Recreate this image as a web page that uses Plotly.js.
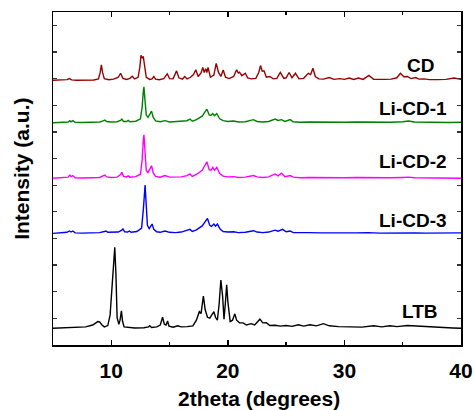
<!DOCTYPE html>
<html>
<head>
<meta charset="utf-8">
<script src="https://cdn.plot.ly/plotly-3.0.1.min.js"></script>
<style>html,body{margin:0;padding:0;background:#fff;}#chart{width:474px;height:410px;}</style>
</head>
<body>
<div id="chart"></div>
<script>
// ---- DATA (2theta in degrees, relative intensity above each pattern's baseline) ----
var seriesNames = ["CD", "Li-CD-1", "Li-CD-2", "Li-CD-3", "LTB"];
var seriesOffsets = [9.93, 8.34, 6.26, 4.19, 0.63];
var seriesColors = ["#990000", "#008000", "#ff00ff", "#0000ff", "#000000"];

var cd = [[5.0,0.01],[5.8,0.02],[6.2,0.03],[6.4,0.07],[6.6,0.02],[7.0,0.01],[7.8,0.02],[8.5,0.02],[8.9,0.06],[9.05,0.3],[9.15,0.59],[9.25,0.3],[9.4,0.07],[9.6,0.05],[9.8,0.03],[10.2,0.05],[10.6,0.12],[10.8,0.27],[11.0,0.08],[11.3,0.04],[11.6,0.08],[11.8,0.16],[12.0,0.06],[12.3,0.12],[12.45,0.5],[12.55,0.94],[12.65,0.86],[12.75,0.88],[12.85,0.55],[13.0,0.12],[13.3,0.04],[13.5,0.06],[13.65,0.15],[13.8,0.05],[14.1,0.03],[14.5,0.07],[14.8,0.25],[15.0,0.07],[15.3,0.06],[15.6,0.36],[15.8,0.1],[16.1,0.05],[16.3,0.15],[16.5,0.06],[16.8,0.12],[17.05,0.22],[17.25,0.4],[17.45,0.15],[17.7,0.28],[17.85,0.49],[17.97,0.3],[18.1,0.44],[18.2,0.3],[18.3,0.49],[18.5,0.12],[18.8,0.2],[19.0,0.64],[19.2,0.3],[19.4,0.15],[19.6,0.39],[19.8,0.12],[20.1,0.07],[20.5,0.15],[20.75,0.4],[20.9,0.28],[21.0,0.31],[21.2,0.18],[21.5,0.27],[21.7,0.1],[22.0,0.06],[22.4,0.08],[22.65,0.3],[22.8,0.56],[22.95,0.35],[23.1,0.36],[23.3,0.12],[23.6,0.15],[23.9,0.06],[24.2,0.08],[24.5,0.3],[24.8,0.08],[25.0,0.1],[25.25,0.3],[25.5,0.1],[25.8,0.27],[26.1,0.06],[26.5,0.08],[26.9,0.27],[27.1,0.22],[27.3,0.46],[27.5,0.15],[27.8,0.06],[28.2,0.05],[28.7,0.11],[29.1,0.04],[29.6,0.07],[30.0,0.04],[30.4,0.09],[30.8,0.04],[31.2,0.09],[31.6,0.04],[32.1,0.19],[32.5,0.04],[33.0,0.03],[33.5,0.04],[34.0,0.05],[34.5,0.1],[34.8,0.27],[35.1,0.14],[35.4,0.15],[35.7,0.07],[36.1,0.11],[36.4,0.05],[36.8,0.06],[37.3,0.03],[38.0,0.03],[38.7,0.04],[39.4,0.09],[40.0,0.04]];

var licd1 = [[5.0,0.0],[5.8,0.02],[6.3,0.03],[6.45,0.08],[6.55,0.04],[6.7,0.08],[6.9,0.02],[7.5,0.01],[8.3,0.02],[9.0,0.03],[9.3,0.07],[9.45,0.1],[9.6,0.05],[10.0,0.03],[10.5,0.04],[10.8,0.09],[10.9,0.14],[11.05,0.05],[11.3,0.05],[11.45,0.09],[11.6,0.04],[12.1,0.06],[12.5,0.15],[12.65,0.6],[12.75,1.2],[12.8,1.35],[12.88,0.9],[13.0,0.3],[13.15,0.2],[13.35,0.38],[13.45,0.44],[13.6,0.2],[13.8,0.07],[14.2,0.04],[14.6,0.08],[15.0,0.03],[15.5,0.04],[16.0,0.05],[16.5,0.08],[16.75,0.14],[16.95,0.06],[17.3,0.12],[17.8,0.25],[18.05,0.42],[18.2,0.51],[18.4,0.3],[18.55,0.28],[18.7,0.35],[18.85,0.27],[19.05,0.35],[19.3,0.15],[19.6,0.08],[20.0,0.05],[20.5,0.07],[20.9,0.03],[21.5,0.04],[22.2,0.12],[22.5,0.05],[23.0,0.03],[23.5,0.05],[24.05,0.14],[24.3,0.09],[24.6,0.12],[24.9,0.05],[25.35,0.12],[25.6,0.04],[26.2,0.02],[27.0,0.03],[28.0,0.02],[29.0,0.03],[30.0,0.02],[31.0,0.03],[32.0,0.02],[33.0,0.03],[34.0,0.02],[35.0,0.04],[35.5,0.07],[36.0,0.03],[37.0,0.02],[38.0,0.03],[39.0,0.01],[40.0,0.02]];

var licd2 = [[5.0,0.0],[5.8,0.02],[6.3,0.04],[6.45,0.12],[6.55,0.06],[6.7,0.1],[6.9,0.02],[7.5,0.01],[8.3,0.02],[9.0,0.03],[9.3,0.09],[9.45,0.12],[9.6,0.05],[10.0,0.03],[10.5,0.04],[10.8,0.14],[10.9,0.22],[11.05,0.07],[11.3,0.05],[11.45,0.09],[11.6,0.04],[12.1,0.06],[12.5,0.15],[12.65,0.7],[12.75,1.45],[12.8,1.63],[12.88,1.1],[13.0,0.3],[13.15,0.2],[13.35,0.4],[13.45,0.47],[13.6,0.2],[13.8,0.07],[14.2,0.04],[14.6,0.1],[15.0,0.04],[15.5,0.04],[16.0,0.05],[16.5,0.1],[16.75,0.16],[16.95,0.07],[17.3,0.14],[17.8,0.3],[18.05,0.5],[18.2,0.62],[18.4,0.32],[18.55,0.3],[18.7,0.41],[18.85,0.3],[19.05,0.41],[19.3,0.18],[19.6,0.08],[20.0,0.05],[20.5,0.06],[20.9,0.03],[21.5,0.04],[22.2,0.1],[22.5,0.05],[23.0,0.03],[23.5,0.05],[24.05,0.16],[24.3,0.09],[24.6,0.19],[24.9,0.06],[25.35,0.1],[25.6,0.04],[26.2,0.02],[27.0,0.03],[28.0,0.02],[29.0,0.03],[30.0,0.02],[31.0,0.03],[32.0,0.02],[33.0,0.02],[34.0,0.02],[35.0,0.03],[35.5,0.04],[36.0,0.02],[37.0,0.02],[38.0,0.01],[39.0,0.01],[40.0,0.0]];

var licd3 = [[5.0,0.0],[5.8,0.02],[6.2,0.04],[6.4,0.09],[6.55,0.05],[6.7,0.09],[6.9,0.02],[7.5,0.01],[8.3,0.02],[9.0,0.03],[9.4,0.07],[9.55,0.09],[9.7,0.04],[10.2,0.03],[10.6,0.05],[10.9,0.12],[11.0,0.17],[11.15,0.06],[11.4,0.05],[11.55,0.09],[11.7,0.04],[12.2,0.07],[12.6,0.2],[12.75,0.9],[12.85,1.6],[12.9,1.81],[12.98,1.2],[13.1,0.3],[13.25,0.18],[13.4,0.3],[13.5,0.35],[13.65,0.15],[13.9,0.06],[14.2,0.04],[14.6,0.09],[15.0,0.04],[15.5,0.03],[16.0,0.05],[16.5,0.1],[16.75,0.15],[16.95,0.07],[17.3,0.13],[17.8,0.28],[18.1,0.45],[18.25,0.56],[18.45,0.3],[18.6,0.26],[18.8,0.35],[18.95,0.27],[19.1,0.35],[19.35,0.15],[19.6,0.07],[20.0,0.05],[20.5,0.06],[20.9,0.03],[21.5,0.04],[22.2,0.1],[22.5,0.05],[23.0,0.03],[23.5,0.05],[24.05,0.12],[24.3,0.08],[24.7,0.15],[25.0,0.06],[25.35,0.09],[25.6,0.03],[26.2,0.02],[27.0,0.03],[28.0,0.02],[29.0,0.03],[30.0,0.02],[31.0,0.02],[32.0,0.03],[33.0,0.01],[34.0,0.02],[35.0,0.02],[35.5,0.03],[36.0,0.02],[37.0,0.01],[38.0,0.02],[39.0,0.01],[40.0,0.02]];

var ltb = [[5.0,0.0],[6.0,0.01],[7.0,0.02],[7.8,0.05],[8.4,0.12],[8.85,0.25],[9.0,0.24],[9.2,0.12],[9.4,0.05],[9.7,0.1],[9.9,0.5],[10.05,1.6],[10.12,1.75],[10.2,2.6],[10.3,3.04],[10.4,2.0],[10.5,0.4],[10.65,0.15],[10.75,0.3],[10.87,0.65],[10.97,0.25],[11.1,0.05],[11.5,0.02],[12.0,0.01],[12.8,0.02],[13.2,0.05],[13.3,0.09],[13.45,0.03],[13.9,0.05],[14.2,0.12],[14.4,0.41],[14.55,0.15],[14.7,0.12],[14.83,0.27],[14.95,0.08],[15.3,0.04],[15.7,0.09],[16.0,0.05],[16.5,0.06],[17.0,0.09],[17.3,0.3],[17.55,0.62],[17.7,0.55],[17.9,1.21],[18.05,0.7],[18.25,0.41],[18.45,0.38],[18.65,0.5],[18.8,0.62],[18.95,0.4],[19.1,0.3],[19.25,0.9],[19.4,1.81],[19.55,1.2],[19.67,0.34],[19.78,0.9],[19.9,1.63],[20.0,1.0],[20.2,0.25],[20.4,0.3],[20.6,0.54],[20.75,0.3],[21.0,0.2],[21.3,0.2],[21.6,0.12],[22.0,0.17],[22.3,0.12],[22.75,0.34],[23.0,0.2],[23.3,0.21],[23.6,0.1],[24.05,0.11],[24.5,0.08],[25.0,0.1],[25.5,0.07],[26.05,0.13],[26.5,0.08],[27.05,0.13],[27.6,0.09],[28.2,0.17],[28.7,0.09],[29.5,0.06],[30.5,0.05],[31.5,0.04],[32.5,0.09],[33.2,0.05],[33.9,0.09],[34.5,0.06],[35.4,0.1],[35.8,0.09],[36.3,0.06],[36.8,0.05],[37.5,0.04],[38.5,0.02],[39.3,0.01],[40.0,0.0]];

var seriesData = [cd, licd1, licd2, licd3, ltb];
var xTickVals = [10, 20, 30, 40];
var xTickText = ["10", "20", "30", "40"];

// ---- CHART ----
var FONT = "Arial, 'Liberation Sans', sans-serif";
var traces = seriesData.map(function (pts, i) {
  return {
    x: pts.map(function (p) { return p[0]; }),
    y: pts.map(function (p) { return p[1] + seriesOffsets[i]; }),
    type: "scatter", mode: "lines", name: seriesNames[i],
    line: { color: seriesColors[i], width: 1.4 },
    showlegend: false, hoverinfo: "skip"
  };
});

var labelPos = [[36.56, 10.5], [35.87, 8.87], [35.87, 6.88], [35.87, 4.69], [36.47, 1.26]];
var annotations = seriesNames.map(function (n, i) {
  return {
    text: n, x: labelPos[i][0], y: labelPos[i][1], xref: "x", yref: "y",
    showarrow: false, xanchor: "center", yanchor: "middle",
    font: { family: FONT, size: 19, color: "#000", weight: "bold" }
  };
});
annotations.push({
  text: "Intensity (a.u.)", textangle: -90, xref: "paper", yref: "paper",
  x: -0.076, y: 0.529, xanchor: "center", yanchor: "middle", showarrow: false,
  font: { family: FONT, size: 21, color: "#000", weight: "bold" }
});
annotations.push({
  text: "2theta (degrees)", xref: "paper", yref: "paper",
  x: 0.505, y: -0.162, xanchor: "center", yanchor: "middle", showarrow: false,
  font: { family: FONT, size: 21, color: "#000", weight: "bold" }
});

var layout = {
  width: 474, height: 410,
  margin: { l: 53, r: 13, t: 12, b: 65 },
  paper_bgcolor: "#fff", plot_bgcolor: "#fff",
  xaxis: {
    range: [5, 40], tickvals: xTickVals, ticktext: xTickText,
    ticks: "inside", ticklen: 5, tickwidth: 1.3, tickcolor: "#000",
    showline: true, linecolor: "#000", linewidth: 1.5, mirror: "allticks",
    showgrid: false, zeroline: false, ticklabelstandoff: 6,
    minor: { tickvals: [5, 15, 25, 35], ticks: "inside", ticklen: 3, tickwidth: 1.3, tickcolor: "#000", showgrid: false },
    tickfont: { family: FONT, size: 21, color: "#000", weight: "bold" }
  },
  yaxis: {
    range: [0, 12.5], dtick: 1, tick0: 0,
    ticks: "inside", ticklen: 4, tickwidth: 1.3, tickcolor: "#333",
    showticklabels: false,
    showline: true, linecolor: "#000", linewidth: 1.5, mirror: "allticks",
    showgrid: false, zeroline: false
  },
  annotations: annotations
};

Plotly.newPlot("chart", traces, layout, { staticPlot: true, displayModeBar: false });
</script>
</body>
</html>
